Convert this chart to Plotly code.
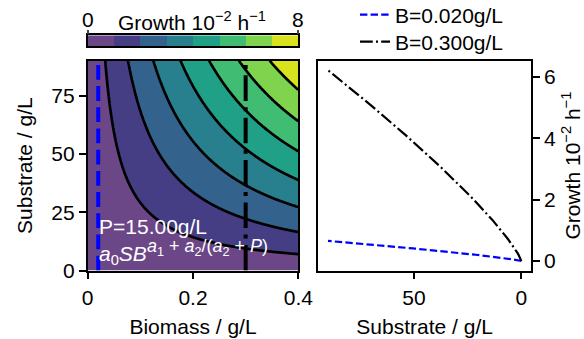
import numpy as np
import plotly.graph_objects as go

# Growth model: a0 * S^a3 * B^(a1 + a2/(a2 + P)), growth in 10^-2 h^-1
a0 = 0.442
a1 = 0.581
a2 = 5.0
a3 = 0.81
product_conc = 15.0  # P in g/L

biomass_range = [0.0, 0.4]      # g/L
substrate_range = [0.0, 90.0]   # g/L
contour_levels = [1, 2, 3, 4, 5, 6, 7]
band_colors = ["#6c4787", "#453e85", "#33628c", "#287f8d",
               "#21a088", "#40bd72", "#80d34d", "#d8e21d"]
colorbar_ticks = [0, 8]

line_biomass = [0.020, 0.300]
line_names = ["B=0.020g/L", "B=0.300g/L"]
line_colors = ["blue", "black"]
line_dash_wide = ["14.8px,6.4px", "25.6px,6.4px,4px,6.4px"]
line_dash_thin = ["7.4px,3.2px", "12.8px,3.2px,2px,3.2px"]

biomass_ticks = [0, 0.2, 0.4]
biomass_ticktext = ["0", "0.2", "0.4"]
substrate_ticks = [0, 25, 50, 75]
substrate_ticks_right = [0, 50]
growth_ticks = [0, 2, 4, 6]


def growth(S, B, P):
    return a0 * np.power(S, a3) * np.power(B, a1 + a2 / (a2 + P))


W, H = 584, 339
FONT = "Liberation Sans"
FS = 21
title_font = dict(family=FONT, size=FS, color="black")

B = np.linspace(biomass_range[0], biomass_range[1], 241)
S = np.linspace(substrate_range[0], substrate_range[1], 241)
BB, SS = np.meshgrid(B, S)
Z = growth(SS, BB, product_conc)

n = len(band_colors)
colorscale = [[i / (n - 1), c] for i, c in enumerate(band_colors)]

fig = go.Figure()

# Filled contour map of growth
fig.add_trace(go.Contour(
    x=B, y=S, z=Z,
    contours=dict(start=contour_levels[0], end=contour_levels[-1], size=1,
                  coloring="fill"),
    colorscale=colorscale,
    line=dict(color="black", width=2.7),
    showscale=False, hoverinfo="skip",
    xaxis="x", yaxis="y",
))

# Vertical markers at the two biomass values
for b, col, dash in zip(line_biomass, line_colors, line_dash_wide):
    fig.add_trace(go.Scatter(
        x=[b, b], y=substrate_range, mode="lines",
        line=dict(color=col, width=4, dash=dash),
        showlegend=False, hoverinfo="skip", xaxis="x", yaxis="y",
    ))

# Growth versus substrate at the two biomass values
S_line = np.linspace(substrate_range[0], substrate_range[1], 200)
legend_ids = ["legend", "legend2"]
for b, name, col, dash, lg in zip(line_biomass, line_names, line_colors,
                                  line_dash_thin, legend_ids):
    fig.add_trace(go.Scatter(
        x=S_line, y=growth(S_line, b, product_conc), mode="lines",
        name=name, line=dict(color=col, width=2.2, dash=dash),
        xaxis="x2", yaxis="y2", legend=lg,
    ))

# Colour bar drawn as a one-row heatmap
cb_centres = [i + 0.5 for i in range(n)]
fig.add_trace(go.Heatmap(
    x=cb_centres, y=[0.5], z=[cb_centres],
    colorscale=colorscale, zmin=cb_centres[0], zmax=cb_centres[-1],
    showscale=False, hoverinfo="skip", xaxis="x3", yaxis="y3",
))


def px_x(p):
    return p / W


def px_y(p):
    return (H - p) / H


left_dom = [px_x(87.7), px_x(298.3)]
right_dom = [px_x(318.3), px_x(531.0)]
main_ydom = [px_y(270.5), px_y(60.7)]
cb_ydom = [px_y(46.3), px_y(35.3)]

axis_common = dict(showline=True, linecolor="black", linewidth=1.8, mirror=True,
                   ticks="outside", ticklen=7, tickwidth=1.8, tickcolor="black",
                   showgrid=False, zeroline=False, automargin=False,
                   tickfont=dict(family=FONT, size=FS, color="black"))

legend_common = dict(xanchor="left", yanchor="middle", bgcolor="rgba(0,0,0,0)",
                     font=dict(family=FONT, size=FS, color="black"),
                     borderwidth=0)

growth_label = "Growth 10<sup>\u22122</sup> h<sup>\u22121</sup>"

fig.update_layout(
    width=W, height=H,
    margin=dict(l=0, r=0, t=0, b=0, autoexpand=False),
    paper_bgcolor="white", plot_bgcolor="white",
    font=dict(family=FONT, size=FS, color="black"),
    xaxis=dict(domain=left_dom, anchor="y", range=biomass_range,
               tickvals=biomass_ticks, ticktext=biomass_ticktext,
               title=dict(text="Biomass / g/L", standoff=12, font=title_font),
               **axis_common),
    yaxis=dict(domain=main_ydom, anchor="x", range=substrate_range,
               tickvals=substrate_ticks,
               title=dict(text="Substrate / g/L", standoff=13, font=title_font),
               **axis_common),
    xaxis2=dict(domain=right_dom, anchor="y2", range=[94.5, -4.5],
                tickvals=substrate_ticks_right,
                title=dict(text="Substrate / g/L", standoff=12, font=title_font),
                **axis_common),
    yaxis2=dict(domain=main_ydom, anchor="x2", range=[-0.31, 6.53], side="right",
                tickvals=growth_ticks,
                title=dict(text=growth_label, standoff=14, font=title_font),
                **axis_common),
    xaxis3=dict(domain=left_dom, anchor="y3", range=[0, 8], side="top",
                tickvals=colorbar_ticks, showticklabels=False,
                showline=True, linecolor="black", automargin=False,
                linewidth=1.5, mirror=True, ticks="outside", ticklen=4,
                tickwidth=1.5, showgrid=False, zeroline=False),
    yaxis3=dict(domain=cb_ydom, anchor="x3", range=[0, 1], showticklabels=False,
                ticks="", showline=True, linecolor="black", linewidth=1.5,
                mirror=True, showgrid=False, zeroline=False, automargin=False),
    legend=dict(x=px_x(355), y=px_y(15), **legend_common),
    legend2=dict(x=px_x(355), y=px_y(42), **legend_common),
    showlegend=True,
)

formula = ("<i>a</i><sub>0</sub><i>SB</i><sup><span style='font-size:18px'>"
           "<i>a</i><sub>1</sub> + <i>a</i><sub>2</sub>/(<i>a</i><sub>2</sub>"
           " + <i>P</i>)</span></sup>")

annotations = [
    dict(text=growth_label,
         x=px_x(192), y=px_y(21), xref="paper", yref="paper",
         xanchor="center", yanchor="middle", showarrow=False,
         font=dict(family=FONT, size=FS, color="black")),
    dict(text="P=15.00g/L", x=px_x(97), y=px_y(226), xref="paper", yref="paper",
         xanchor="left", yanchor="middle", showarrow=False,
         font=dict(family=FONT, size=FS, color="white")),
    dict(text=formula, x=px_x(97), y=px_y(252), xref="paper", yref="paper",
         xanchor="left", yanchor="middle", showarrow=False,
         font=dict(family=FONT, size=FS, color="white")),
]
# Colour-bar end labels
for v in colorbar_ticks:
    annotations.append(dict(text=str(v), x=v, y=px_y(19.5), xref="x3", yref="paper",
                            xanchor="center", yanchor="middle", showarrow=False,
                            font=dict(family=FONT, size=FS, color="black")))
fig.update_layout(annotations=annotations)

fig.write_html("out.html")
